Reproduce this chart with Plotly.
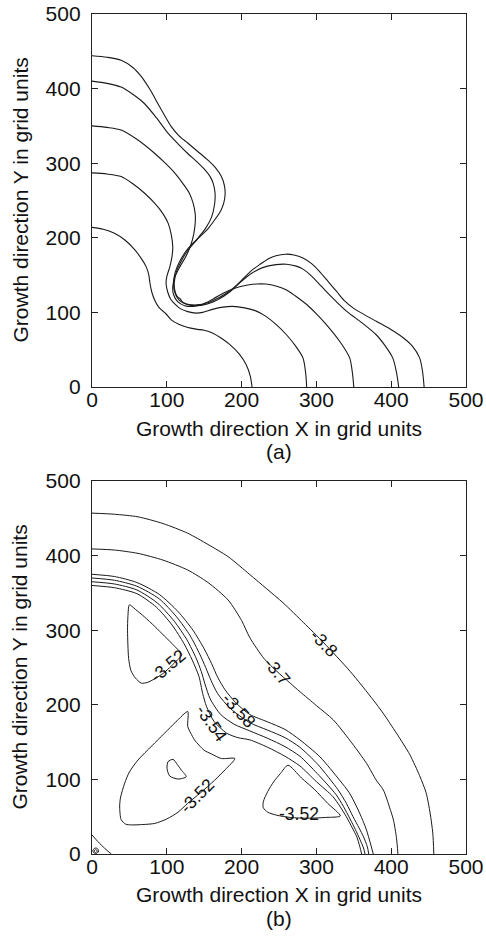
import plotly.graph_objects as go

# ---------------- (a) growth fronts ----------------
front1_x = [0, 15, 30, 44, 57, 66, 72.5, 76, 77.5, 80, 84, 90, 98.5, 106, 116, 127, 139, 150, 161, 172, 184, 197, 206, 211.5, 214]
front1_y = [214, 211.5, 206, 197, 184, 172, 161, 150, 139, 127, 116, 106, 98.5, 90, 84, 80, 77.5, 76, 72.5, 66, 57, 44, 30, 15, 0]

front2_x = [0, 20, 39, 55, 70, 84, 95, 102, 106, 108, 107, 104, 100, 99, 101, 105, 111, 118, 128, 139, 148, 161, 175, 188, 204, 219, 232, 246, 260, 272, 282, 285.5, 287]
front2_y = [287, 285.5, 282, 272, 260, 246, 232, 219, 204, 188, 175, 161, 148, 139, 128, 118, 111, 105, 101, 99, 100, 104, 107, 108, 106, 102, 95, 84, 70, 55, 39, 20, 0]

front3_x = [0, 20, 39, 60, 84, 98, 110.5, 122, 130, 135, 138, 138, 136, 132, 126, 118, 111, 108, 109, 114.5, 124, 135, 148, 162, 176, 190, 205, 220, 232, 247, 260, 272, 287, 300, 313, 332, 344.5, 348, 350]
front3_y = [350, 348, 344.5, 332, 313, 300, 287, 272, 260, 247, 232, 220, 205, 190, 176, 162, 148, 135, 124, 114.5, 109, 108, 111, 118, 126, 132, 136, 138, 138, 135, 130, 122, 110.5, 98, 84, 60, 39, 20, 0]

front4_x = [0, 20, 39, 55, 70, 86, 101, 115, 128, 140, 151, 158, 162, 164.5, 164, 160, 152, 141, 128, 117, 111, 109, 111, 116.5, 126, 139, 153, 168, 185, 199, 213, 228, 246, 260, 273, 282, 291, 302, 313, 326, 341, 361, 380, 392, 402, 407, 410]
front4_y = [410, 407, 402, 392, 380, 361, 341, 326, 313, 302, 291, 282, 273, 260, 246, 228, 213, 199, 185, 168, 153, 139, 126, 116.5, 111, 109, 111, 117, 128, 141, 152, 160, 164, 164.5, 162, 158, 151, 140, 128, 115, 101, 86, 70, 55, 39, 20, 0]

front5_x = [0, 20, 39, 55, 66, 78, 88, 97, 106, 116, 128, 141, 155, 165, 173, 177, 178, 176, 172, 164, 155, 140, 128, 120, 113, 110, 111, 114, 118, 121, 128, 140, 155, 170, 183, 197, 212, 224, 236, 246, 259, 270, 282, 294, 304, 316, 327, 337, 349, 364, 380, 398, 416, 428, 438, 442, 444]
front5_y = [444, 442, 438, 428, 416, 398, 380, 364, 349, 337, 327, 316, 304, 294, 282, 270, 259, 246, 236, 224, 212, 197, 183, 170, 155, 140, 128, 121, 118, 114, 111, 110, 113, 120, 128, 140, 155, 164, 172, 176, 178, 177, 173, 165, 155, 141, 128, 116, 106, 97, 88, 78, 66, 55, 39, 20, 0]

fronts = [(front1_x, front1_y), (front2_x, front2_y), (front3_x, front3_y),
          (front4_x, front4_y), (front5_x, front5_y)]

# ---------------- (b) contour lines ----------------
c38_x = [0, 30, 61.5, 95, 128, 155, 182, 211, 233, 255.6, 283, 310, 345, 376, 389, 407, 425, 438, 446.7, 452, 455.6, 457]
c38_y = [457, 455.5, 452, 443, 430, 415, 398.6, 374.6, 356, 336.6, 310, 283, 245, 206.5, 189, 162, 133, 105, 82, 55, 28, 0]

c37_x = [0, 30, 61.5, 95, 128, 155, 182, 200, 211, 230, 247, 265, 278, 300, 322.7, 345, 367, 380, 389.5, 398, 403, 407, 409]
c37_y = [409, 407.5, 403, 394, 380.7, 364, 340.5, 313, 290, 262, 245, 229, 217.6, 199, 179.7, 152, 121.6, 99, 85.8, 62, 45.6, 22, 0]

b1_x = [0, 30, 60, 90, 115, 135, 150, 160, 168, 178, 192, 211, 235, 258, 278, 305, 331, 344, 354, 362, 367, 372, 376]
b1_y = [375, 372, 364, 348, 325, 300, 275, 255, 237, 220, 203, 187, 177, 167, 153, 130, 99, 82, 63, 45, 32, 15, 0]

b2_x = [0, 30, 60, 90, 113, 131, 144, 152, 159, 168, 185, 211, 235, 258, 278, 302, 329, 340, 349, 357, 363, 368, 370]
b2_y = [370, 367, 359, 342, 318, 293, 268, 250, 233, 215, 195, 176, 166, 156, 143, 120, 86, 68, 50, 35, 23, 10, 0]

b3_x = [0, 30, 60, 88, 110, 127, 139, 146, 151, 158, 172, 190, 211, 235, 258, 278, 301, 326, 336, 345, 352, 358, 363, 365]
b3_y = [365, 362, 354, 336, 312, 287, 263, 245, 228, 208, 187, 174, 165, 155, 144, 131, 108, 80, 64, 47, 33, 20, 8, 0]

b4_x = [0, 30, 60, 86, 107, 123, 134, 143, 148, 153, 163, 180, 195, 211, 235, 258, 278, 300, 322, 332, 340, 348, 354, 358, 360.5]
b4_y = [360, 357, 349, 331, 307, 282, 260, 238, 215, 198, 178, 162, 156, 153, 143, 131, 118, 97, 77, 63, 50, 35, 23, 10, 0]

loop_ul_x = [50, 48, 47.5, 48, 49, 52, 58, 66, 74, 84, 95, 106, 114, 120, 110, 97, 84, 70, 58, 50]
loop_ul_y = [334, 318, 300, 280, 262, 246, 236, 229, 230, 235, 242, 252, 260, 267, 279, 292, 305, 318, 328, 334]

loop_ll_x = [128, 112, 97, 80, 61.5, 50, 43.7, 38, 37, 39, 45, 53, 68, 84, 100, 115, 128, 145, 164, 178, 191, 173, 160, 150, 143, 137, 132, 128, 128]
loop_ll_y = [191, 177, 162, 145, 126, 110, 95, 75, 63, 46, 40, 39, 39.5, 41, 47, 56, 68, 82, 99, 113, 128, 128, 134, 139, 146, 153, 162, 171, 191]

loop_small_x = [101.6, 108.3, 114, 119.4, 126, 115, 103.8, 100.3, 101.6]
loop_small_y = [123.7, 126.9, 120, 112.6, 103.6, 100.5, 104.6, 114.8, 123.7]

loop_lr_x = [262, 252, 243, 235, 229, 229, 235, 247, 265, 290, 312, 332, 315, 298, 280, 262]
loop_lr_y = [119, 108, 97, 84, 70, 62, 56, 52, 49, 48, 49, 51, 68, 86, 102, 119]

corner_x = [0, 8, 17, 25.8]
corner_y = [25.5, 16.5, 7.6, 0]
ring1_x = [5, 7, 9, 7, 5, 3, 1, 3, 5]
ring1_y = [8, 7.4, 4, 1.2, 0.3, 1.2, 4, 7.4, 8]
ring2_x = [5, 6.2, 7, 6.2, 5, 3.8, 3, 3.8, 5]
ring2_y = [6, 5.4, 4, 2.6, 2, 2.6, 4, 5.4, 6]

contours = [(c38_x, c38_y), (c37_x, c37_y), (b1_x, b1_y), (b2_x, b2_y), (b3_x, b3_y),
            (b4_x, b4_y), (loop_ul_x, loop_ul_y), (loop_ll_x, loop_ll_y),
            (loop_small_x, loop_small_y), (loop_lr_x, loop_lr_y),
            (corner_x, corner_y), (ring1_x, ring1_y), (ring2_x, ring2_y)]

label_text = ["-3.8", "-3.7", "-3.58", "-3.54", "-3.52", "-3.52", "-3.52"]
label_x = [310, 247, 196, 160, 101, 140, 277]
label_y = [283, 245, 193, 176, 252, 78, 54]
label_angle = [45, 50, 48, 55, -40, -45, 0]

tick_vals = [0, 100, 200, 300, 400, 500]
tick_text = ["0", "100", "200", "300", "400", "500"]

LINE = "#1a1a1a"
FONT = "Liberation Sans, Arial, sans-serif"

fig = go.Figure()
for fx, fy in fronts:
    fig.add_trace(go.Scatter(x=fx, y=fy, mode="lines", xaxis="x", yaxis="y",
                             line=dict(color=LINE, width=1.1, shape="spline", smoothing=0.8),
                             hoverinfo="skip", showlegend=False))
for cx, cy in contours:
    fig.add_trace(go.Scatter(x=cx, y=cy, mode="lines", xaxis="x2", yaxis="y2",
                             line=dict(color=LINE, width=1.0, shape="spline", smoothing=0.7),
                             hoverinfo="skip", showlegend=False))

annotations = []
for t, lx, ly, ang in zip(label_text, label_x, label_y, label_angle):
    annotations.append(dict(text=t, x=lx, y=ly, xref="x2", yref="y2", showarrow=False,
                            textangle=ang, font=dict(family=FONT, size=17.5, color="#111")))

title_font = dict(family=FONT, size=21, color="#111")
annotations += [
    dict(text="Growth direction X in grid units", x=0.5, y=0.506, xref="paper", yref="paper",
         showarrow=False, xanchor="center", yanchor="middle", font=title_font),
    dict(text="(a)", x=0.5, y=0.4786, xref="paper", yref="paper",
         showarrow=False, xanchor="center", yanchor="middle", font=title_font),
    dict(text="Growth direction X in grid units", x=0.5, y=-0.0488, xref="paper", yref="paper",
         showarrow=False, xanchor="center", yanchor="middle", font=title_font),
    dict(text="(b)", x=0.5, y=-0.0762, xref="paper", yref="paper",
         showarrow=False, xanchor="center", yanchor="middle", font=title_font),
    dict(text="Growth direction Y in grid units", x=-0.1925, y=0.778, xref="paper", yref="paper",
         showarrow=False, xanchor="center", yanchor="middle", textangle=-90, font=title_font),
    dict(text="Growth direction Y in grid units", x=-0.1925, y=0.222, xref="paper", yref="paper",
         showarrow=False, xanchor="center", yanchor="middle", textangle=-90, font=title_font),
]

axis_common = dict(range=[0, 500], tickmode="array", tickvals=tick_vals, ticktext=tick_text,
                   ticks="inside", ticklen=6, tickwidth=1, tickcolor="#222",
                   showline=True, linecolor="#222", linewidth=1.2, mirror="ticks",
                   showgrid=False, zeroline=False, automargin=False,
                   ticklabeloverflow="allow",
                   tickfont=dict(family=FONT, size=21, color="#111"))

fig.update_layout(
    width=486, height=936,
    margin=dict(l=92, r=20, t=14, b=82),
    paper_bgcolor="white", plot_bgcolor="white",
    xaxis=dict(domain=[0, 1], anchor="y", ticklabelstandoff=-6, **axis_common),
    yaxis=dict(domain=[0.556, 1], anchor="x", ticklabelstandoff=6, **axis_common),
    xaxis2=dict(domain=[0, 1], anchor="y2", ticklabelstandoff=-6, **axis_common),
    yaxis2=dict(domain=[0, 0.444], anchor="x2", ticklabelstandoff=6, **axis_common),
    annotations=annotations,
    showlegend=False,
)

# remove the default 8px page margin so the figure fills the window exactly
fig.write_html("out.html",
               config={"displayModeBar": False, "staticPlot": True},
               post_script="document.body.style.margin='0';document.body.style.overflow='hidden';")
